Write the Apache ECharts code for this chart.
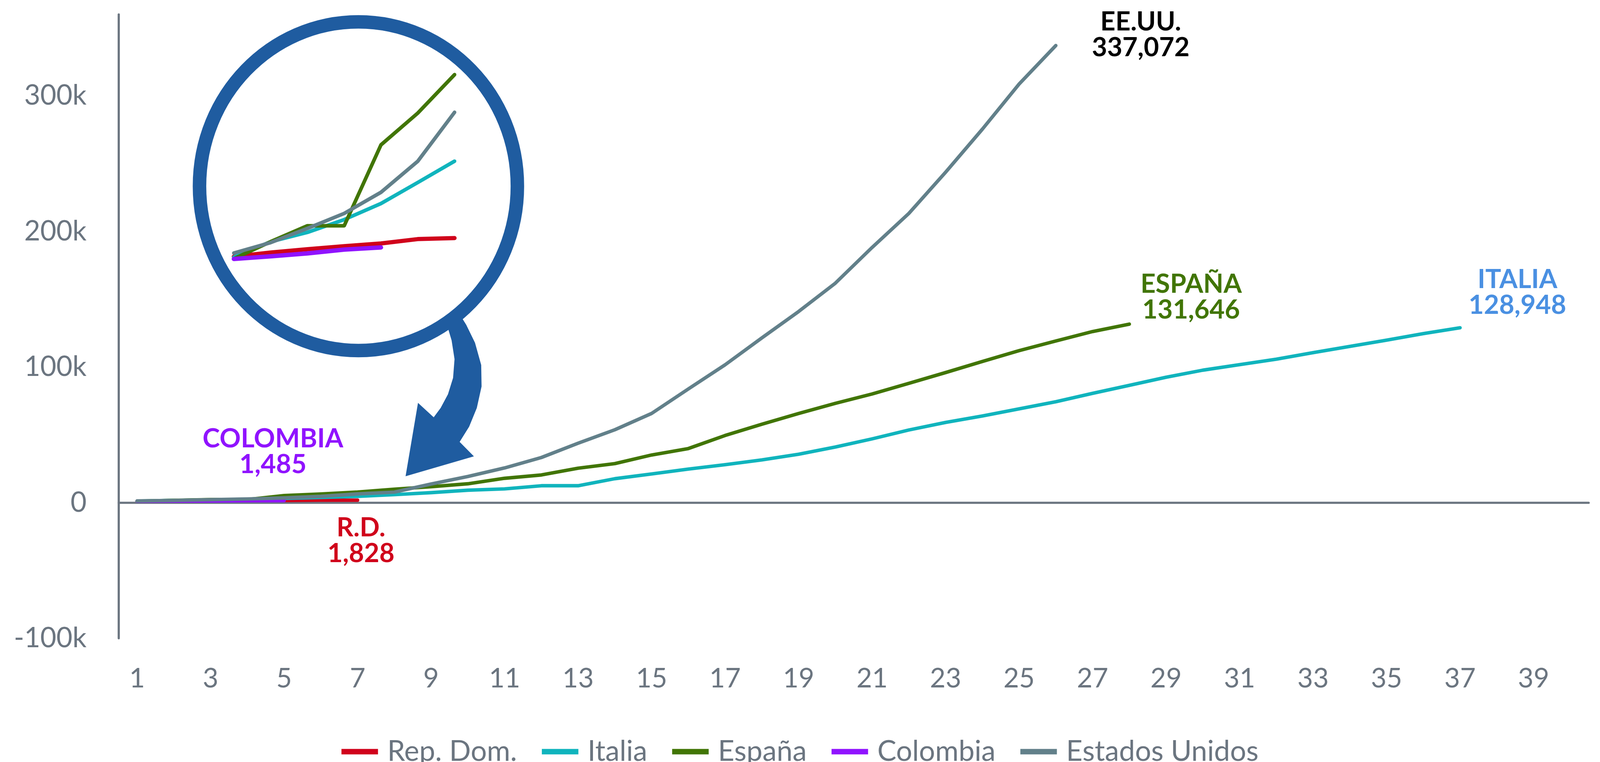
<!DOCTYPE html>
<html>
<head>
<meta charset="utf-8">
<script src="https://cdn.jsdelivr.net/npm/echarts@6/dist/echarts.min.js"></script>
<style>
html,body{margin:0;padding:0;background:#fff;overflow:hidden;}
#chart{width:100vw;height:100vh;}
</style>
</head>
<body>
<div id="chart"></div>
<script>
// ---- data ----
const days = Array.from({length: 40}, (_, i) => String(i + 1));
const seriesNames = ['Rep. Dom.', 'Italia', 'España', 'Colombia', 'Estados Unidos'];
const repDom = [1150, 1300, 1420, 1530, 1630, 1790, 1828];
const italia = [1128, 1694, 2036, 2502, 3089, 3858, 4636, 5883, 7375, 9172, 10149, 12462, 12462, 17660, 21157, 24747, 27980, 31506, 35713, 41035, 47021, 53578, 59138, 63927, 69176, 74386, 80589, 86498, 92472, 97689, 101739, 105792, 110574, 115242, 119827, 124632, 128948];
const espana = [1073, 1695, 2277, 2277, 5232, 6391, 7798, 9942, 11748, 13910, 17963, 20410, 25374, 28768, 35136, 39885, 49515, 57786, 65719, 73235, 80110, 87956, 95923, 104118, 112065, 119199, 126168, 131646];
const colombia = [1065, 1161, 1267, 1406, 1485];
const eeuu = [1281, 1663, 2179, 2727, 3499, 4632, 6421, 7783, 13747, 19273, 25600, 33276, 43843, 53736, 65778, 83836, 101657, 121465, 140909, 161831, 188172, 213242, 243622, 275367, 308650, 337072];
const insetDays = 7;
const yTicks = [-100000, 360000, 100000]; // min, max, interval
const insetYMax = 8000;

const colors = ['#d0021b', '#10b4bd', '#417505', '#9013fe', '#62808a'];
const allData = [repDom, italia, espana, colombia, eeuu];
const labelNames = ['R.D.', 'ITALIA', 'ESPAÑA', 'COLOMBIA', 'EE.UU.'];
const labelColors = ['#d0021b', '#4a90e2', '#417505', '#9013fe', '#000000'];
const labelPos = [[988, 1385], [4153, 749], [3260, 761], [747, 1157], [3122, 89]];

const fmt = v => v.toLocaleString('en-US');
const axisGray = '#6b7580';
const FONT = 'Lato, "Noto Sans", sans-serif';

const el = document.getElementById('chart');
const chart = echarts.init(el, null, {renderer: 'canvas'});
const W = chart.getWidth(), H = chart.getHeight();
const sx = W / 4379, sy = H / 1952, s = Math.min(sx, sy);
const X = v => v * sx, Y = v => v * sy, S = v => v * s;

const series = [];
allData.forEach((d, i) => {
  series.push({
    name: seriesNames[i], type: 'line', xAxisIndex: 0, yAxisIndex: 0,
    data: d, showSymbol: false, symbol: 'none', silent: true,
    color: colors[i],
    lineStyle: {width: S(9.5), color: colors[i], cap: 'round', join: 'round'},
    z: 3 + i
  });
});
allData.forEach((d, i) => {
  series.push({
    name: seriesNames[i], type: 'line', xAxisIndex: 2, yAxisIndex: 1,
    data: d.slice(0, insetDays), showSymbol: false, symbol: 'none', silent: true,
    color: colors[i],
    lineStyle: {width: S(i === 3 ? 12 : (i === 0 ? 11.5 : 10)), color: colors[i], cap: 'round', join: 'round'},
    z: 3 + i
  });
});

const arrowPts = [
  [1222, 828], [1236, 872], [1244, 920], [1240, 968], [1226, 1010], [1206, 1045], [1187, 1069],
  [1144, 1032], [1110, 1220], [1297, 1169], [1258, 1132],
  [1284, 1093], [1305, 1045], [1318, 990], [1317, 935], [1300, 878], [1276, 832], [1258, 805]
];
const graphics = [
  {type: 'ellipse', shape: {cx: X(981), cy: Y(477), rx: X(435), ry: Y(421)},
   style: {fill: 'none', stroke: '#1f5ca0', lineWidth: S(37)}, z: 10},
  {type: 'polygon', shape: {points: arrowPts.map(p => [X(p[0]), Y(p[1])])},
   style: {fill: '#1f5ca0'}, z: 10}
];
allData.forEach((d, i) => {
  graphics.push({
    type: 'text', x: X(labelPos[i][0]), y: Y(labelPos[i][1]), z: 20,
    style: {
      text: labelNames[i] + '\n' + fmt(d[d.length - 1]),
      fill: labelColors[i],
      fontSize: S(72), fontWeight: 'bold', fontFamily: FONT,
      lineHeight: S(71), textAlign: 'center', textVerticalAlign: 'middle'
    }
  });
});

chart.setOption({
  animation: false,
  backgroundColor: '#ffffff',
  textStyle: {fontFamily: FONT},
  grid: [
    {left: X(325), right: X(31), top: Y(37), bottom: Y(317), containLabel: false},
    {left: X(640), right: X(4379 - 1244), top: Y(177), bottom: Y(1952 - 738), containLabel: false}
  ],
  legend: {
    data: seriesNames, left: 'center', top: Y(1884),
    icon: 'rect', itemWidth: S(100), itemHeight: S(15), itemGap: S(68),
    textStyle: {fontSize: S(78), color: axisGray, fontFamily: FONT, padding: [0, 0, 0, S(20)]}
  },
  xAxis: [
    {type: 'category', gridIndex: 0, data: days, boundaryGap: true,
     axisLine: {show: true, onZero: true, lineStyle: {color: axisGray, width: S(6)}},
     axisTick: {show: false}, axisLabel: {show: false}, splitLine: {show: false}},
    {type: 'category', gridIndex: 0, data: days, boundaryGap: true, position: 'bottom',
     axisLine: {show: false, onZero: false}, axisTick: {show: false},
     axisLabel: {show: true, interval: 1, color: axisGray, fontSize: S(74), fontFamily: FONT, margin: Y(69)},
     splitLine: {show: false}},
    {type: 'category', gridIndex: 1, data: days.slice(0, insetDays), boundaryGap: false, show: false}
  ],
  yAxis: [
    {type: 'value', gridIndex: 0, min: yTicks[0], max: yTicks[1], interval: yTicks[2],
     axisLine: {show: true, onZero: false, lineStyle: {color: axisGray, width: S(6)}},
     axisTick: {show: false}, splitLine: {show: false},
     axisLabel: {color: axisGray, fontSize: S(76), fontFamily: FONT, margin: X(88), showMaxLabel: false,
       formatter: v => v === 0 ? '0' : (v / 1000) + 'k'}},
    {type: 'value', gridIndex: 1, min: 0, max: insetYMax, show: false, splitLine: {show: false}}
  ],
  series: series,
  graphic: graphics
});
</script>
</body>
</html>
